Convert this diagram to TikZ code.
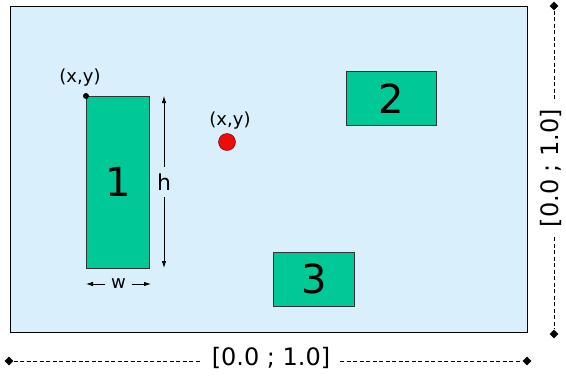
\documentclass[tikz,border=0pt]{standalone}
\usepackage{fontspec}
\setmainfont{DejaVu Sans}
\usetikzlibrary{arrows.meta,shapes.geometric}
\definecolor{bgblue}{RGB}{217,239,252}
\definecolor{boxgreen}{RGB}{0,200,150}
\definecolor{dotred}{RGB}{240,10,10}
\tikzset{
  greenbox/.style={draw=black!80, fill=boxgreen, line width=0.8pt},
  bignum/.style={font=\fontsize{40}{42}\selectfont},
  smalllab/.style={font=\fontsize{18}{20}\selectfont, inner sep=0pt},
  dimlab/.style={font=\fontsize{24}{26}\selectfont, inner sep=0pt},
  dimline/.style={line width=0.7pt, dash pattern=on 4pt off 2.5pt},
  dimtip/.style={-{Latex[length=7pt,width=4.5pt]}, line width=0.8pt},
  enddiamond/.style={diamond, fill=black, minimum size=9pt, inner sep=0pt},
}
\begin{document}
\begin{tikzpicture}[x=1pt,y=-1pt]
\useasboundingbox (0,0) rectangle (566,376);
% canvas
\node[draw=black, fill=bgblue, line width=1pt, minimum width=517pt, minimum height=326pt, inner sep=0pt, anchor=north west] (canvas) at (10,6) {};
% boxes
\node[greenbox, minimum width=63pt, minimum height=172pt, inner sep=0pt, anchor=north west] (b1) at (86,96) {};
\node[bignum] at (b1.center) {1};
\node[greenbox, minimum width=90pt, minimum height=54pt, inner sep=0pt, anchor=north west] (b2) at (346,71) {};
\node[bignum] at (b2.center) {2};
\node[greenbox, minimum width=81pt, minimum height=54pt, inner sep=0pt, anchor=north west] (b3) at (273,252) {};
\node[bignum] at (b3.center) {3};
% corner point
\fill (b1.north west) circle (3pt);
\node[smalllab] (xy1) at (80,78) {(x,y)};
% red dot
\node[circle, draw=black!70!red, fill=dotred, minimum size=17pt, inner sep=0pt] (rd) at (227,142) {};
\node[smalllab] (xy2) at (230,121) {(x,y)};
% h dimension
\node[font=\fontsize{22}{24}\selectfont, inner sep=0pt, minimum height=30pt] (hl) at (164,182) {h};
\coordinate (htop) at (164,96);
\coordinate (hbot) at (164,268);
\draw[dimtip] (hl.north) -- (htop);
\draw[dimtip] (hl.south) -- (hbot);
% w dimension
\node[font=\fontsize{18}{20}\selectfont, inner sep=0pt, minimum width=26pt] (wl) at (118.5,284) {w};
\coordinate (wleft) at (86,284);
\coordinate (wright) at (151,284);
\draw[dimtip] (wl.west) -- (wleft);
\draw[dimtip] (wl.east) -- (wright);
% horizontal range
\node[dimlab] (hr) at (271,358) {[0.0 ; 1.0]};
\node[enddiamond] (hd1) at (9,361) {};
\node[enddiamond] (hd2) at (527,361) {};
\draw[dimline] (hd1) -- ([xshift=-10pt]hr.west |- hd1);
\draw[dimline] ([xshift=10pt]hr.east |- hd2) -- (hd2);
% vertical range
\node[dimlab, rotate=90] (vr) at (551,168) {[0.0 ; 1.0]};
\node[enddiamond] (vd1) at (554,6) {};
\node[enddiamond] (vd2) at (554,334) {};
\draw[dimline] (vd1) -- ([yshift=10pt]vr.east -| vd1);
\draw[dimline] ([yshift=-10pt]vr.west -| vd2) -- (vd2);
\end{tikzpicture}
\end{document}
